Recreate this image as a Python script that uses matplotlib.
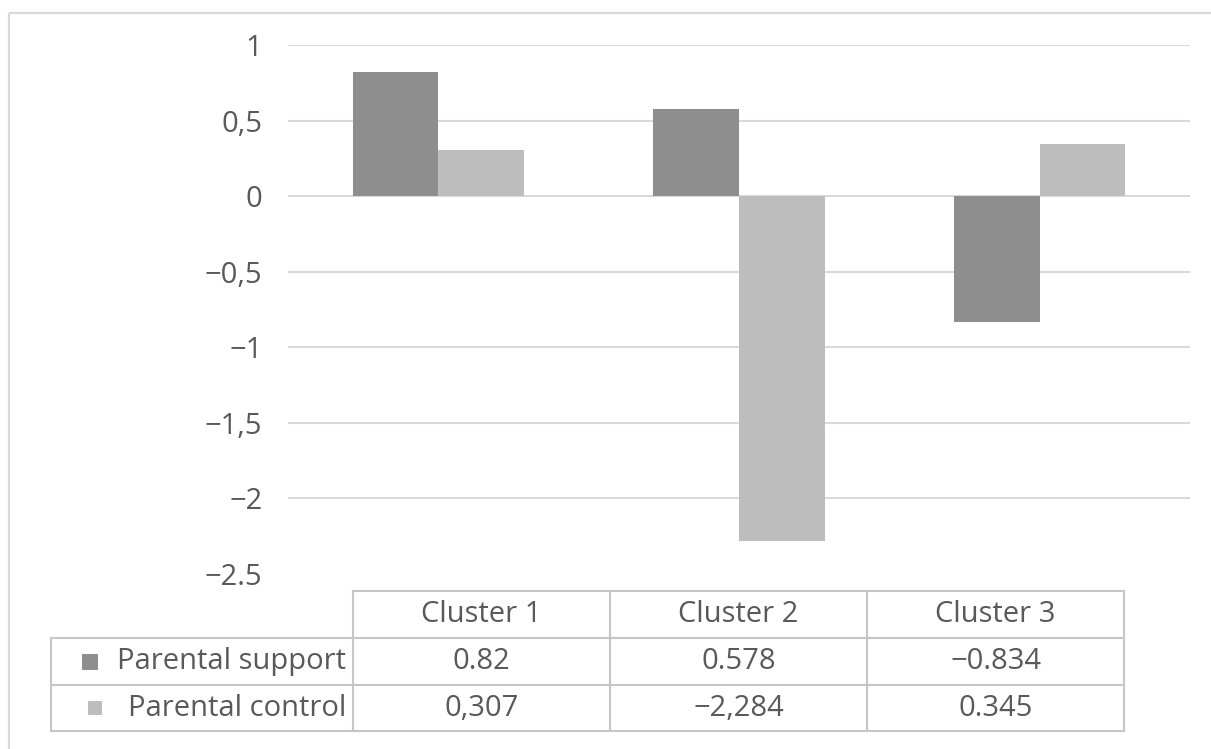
import matplotlib

matplotlib.use("Agg")

import matplotlib.pyplot as plt
from matplotlib.patches import Rectangle

# chart data
clusters = ["Cluster 1", "Cluster 2", "Cluster 3"]
series_names = ["Parental support", "Parental control"]
parental_support = [0.82, 0.578, -0.834]
parental_control = [0.307, -2.284, 0.345]
support_text = ["0.82", "0.578", "\u22120.834"]
control_text = ["0,307", "\u22122,284", "0.345"]
y_ticks = [1, 0.5, 0, -0.5, -1, -1.5, -2, -2.5]
y_tick_labels = ["1", "0,5", "0", "\u22120,5", "\u22121", "\u22121,5", "\u22122", "\u22122.5"]

DARK = "#8e8e8e"
LIGHT = "#bdbdbd"
GRID = "#d9d9d9"
TEXT = "#595959"
TABLE_LINE = "#c6c6c6"
FONT = "Open Sans"
FS = 21

W, H = 1211, 749
plt.rcParams["font.family"] = [FONT, "DejaVu Sans"]

fig = plt.figure(figsize=(W / 100, H / 100), dpi=100)


def frac_box(x0, y0, x1, y1):
    # pixel box (top-left origin) -> figure fraction rect
    return [x0 / W, (H - y1) / H, (x1 - x0) / W, (y1 - y0) / H]


# pixel-space overlay for the frame and the data table
over = fig.add_axes([0, 0, 1, 1], zorder=0)
over.set_xlim(0, W)
over.set_ylim(H, 0)
over.axis("off")

over.plot([9, 9], [H + 5, 13], color=GRID, lw=1.6, solid_capstyle="butt")
over.plot([9, W + 5], [13, 13], color=GRID, lw=1.6, solid_capstyle="butt")

# bar chart
ax = fig.add_axes(frac_box(288, 45, 1190, 574), zorder=1)
ax.patch.set_alpha(0)
x = list(range(len(clusters)))
bw = 0.285
ax.bar([i - bw / 2 for i in x], parental_support, width=bw, color=DARK, zorder=2)
ax.bar([i + bw / 2 for i in x], parental_control, width=bw, color=LIGHT, zorder=2)
for t in y_ticks[:-1]:
    ax.axhline(t, color=GRID, lw=1.5, zorder=1)
ax.set_xlim(-0.5, len(clusters) - 0.5)
ax.set_ylim(-2.5, 1)
ax.set_xticks([])
ax.set_yticks(y_ticks)
ax.set_yticklabels(y_tick_labels, fontsize=FS, color=TEXT)
ax.tick_params(axis="y", length=0, pad=18.5)
for s in ax.spines.values():
    s.set_visible(False)

# data table below the plot
col_x = [353, 610, 867, 1124]
label_left = 51
row_y = [591, 638, 685, 731]

over.plot([col_x[0], col_x[-1]], [row_y[0], row_y[0]], color=TABLE_LINE, lw=1.5)
for y in row_y[1:]:
    over.plot([label_left, col_x[-1]], [y, y], color=TABLE_LINE, lw=1.5)
over.plot([label_left, label_left], [row_y[1], row_y[-1]], color=TABLE_LINE, lw=1.5)
for cx in col_x:
    over.plot([cx, cx], [row_y[0], row_y[-1]], color=TABLE_LINE, lw=1.5)

for j, name in enumerate(clusters):
    cx = (col_x[j] + col_x[j + 1]) / 2
    over.text(cx, (row_y[0] + row_y[1]) / 2, name, ha="center", va="center",
              fontsize=FS, color=TEXT)

rows = [(series_names[0], support_text, DARK, 16, 82),
        (series_names[1], control_text, LIGHT, 14, 88)]
for r, (name, cells, color, sq, sq_x) in enumerate(rows):
    cy = (row_y[r + 1] + row_y[r + 2]) / 2
    over.add_patch(Rectangle((sq_x, cy - sq / 2), sq, sq, color=color, lw=0))
    over.text(col_x[0] - 7, cy, name, ha="right", va="center", fontsize=FS, color=TEXT)
    for j, s in enumerate(cells):
        cx = (col_x[j] + col_x[j + 1]) / 2
        over.text(cx, cy, s, ha="center", va="center", fontsize=FS, color=TEXT)

fig.savefig("out.png", dpi=100, facecolor="white")
